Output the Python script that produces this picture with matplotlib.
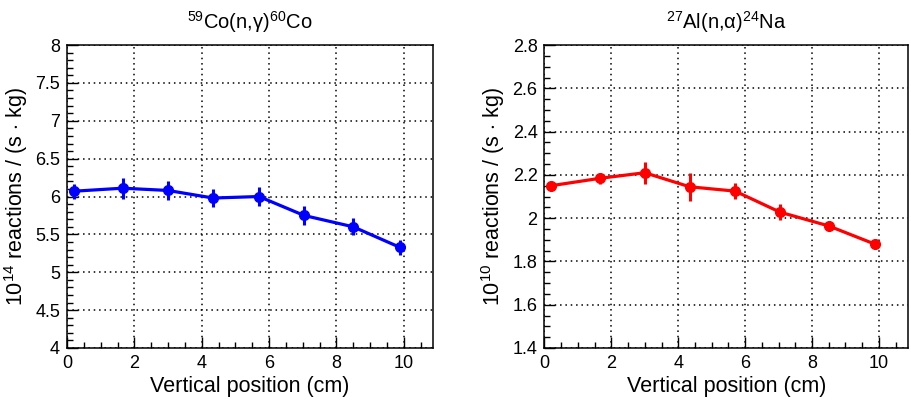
import numpy as np
import matplotlib
matplotlib.use("Agg")
import matplotlib.pyplot as plt
from matplotlib.ticker import MultipleLocator

plt.rcParams['font.family'] = ['Liberation Sans', 'DejaVu Sans']
plt.rcParams['mathtext.fontset'] = 'custom'
plt.rcParams['mathtext.rm'] = 'Liberation Sans'
plt.rcParams['mathtext.it'] = 'Liberation Sans:italic'

# Data
position = [0.2, 1.65, 3.0, 4.34, 5.7, 7.04, 8.5, 9.88]

co_rate = [6.07, 6.11, 6.08, 5.98, 6.0, 5.75, 5.60, 5.33]
co_err = [0.10, 0.14, 0.12, 0.12, 0.13, 0.12, 0.11, 0.10]

al_rate = [2.150, 2.184, 2.210, 2.145, 2.125, 2.028, 1.964, 1.880]
al_err = [0.010, 0.025, 0.050, 0.065, 0.036, 0.038, 0.023, 0.010]

fig = plt.figure(figsize=(9.12, 4.03), dpi=100)
ax1 = fig.add_axes([0.0735, 0.1365, 0.4013, 0.7517])
ax2 = fig.add_axes([0.597, 0.1365, 0.3986, 0.7517])


def style(ax, ylim, ymaj, ymin):
    ax.set_xlim(0, 10.87)
    ax.set_ylim(*ylim)
    ax.xaxis.set_major_locator(MultipleLocator(2))
    ax.xaxis.set_minor_locator(MultipleLocator(0.5))
    ax.yaxis.set_major_locator(MultipleLocator(ymaj))
    ax.yaxis.set_minor_locator(MultipleLocator(ymin))
    ax.tick_params(which='both', direction='in', labelsize=13, width=1.0)
    ax.tick_params(which='major', length=8, pad=5)
    ax.tick_params(which='minor', length=4)
    ax.grid(True, which='major', color='black', linestyle=(0, (1, 2.5)), linewidth=1.1)
    for sp in ax.spines.values():
        sp.set_linewidth(1.1)
    ax.set_xlabel('Vertical position (cm)', fontsize=15.5, labelpad=3)


ax1.errorbar(position, co_rate, yerr=co_err, color='#0000ff', marker='o',
             markersize=7, linewidth=2.3, elinewidth=2.2, capsize=0)
style(ax1, (4, 8), 0.5, 0.1)
ax1.yaxis.set_major_formatter(plt.FuncFormatter(lambda v, p: f'{v:g}'))
ax1.set_ylabel(r'$10^{14}$ reactions / (s $\cdot$ kg)', fontsize=15.5, labelpad=4)
ax1.set_title(r'$^{59}$Co(n,γ)$^{60}$Co', fontsize=14.5, pad=12)

ax2.errorbar(position, al_rate, yerr=al_err, color='#ff0000', marker='o',
             markersize=7, linewidth=2.3, elinewidth=2.2, capsize=0)
style(ax2, (1.4, 2.8), 0.2, 0.05)
ax2.yaxis.set_major_formatter(plt.FuncFormatter(lambda v, p: f'{v:g}'))
ax2.set_ylabel(r'$10^{10}$ reactions / (s $\cdot$ kg)', fontsize=15.5, labelpad=4)
ax2.set_title(r'$^{27}$Al(n,α)$^{24}$Na', fontsize=14.5, pad=12)

fig.savefig('out.png', dpi=100)
